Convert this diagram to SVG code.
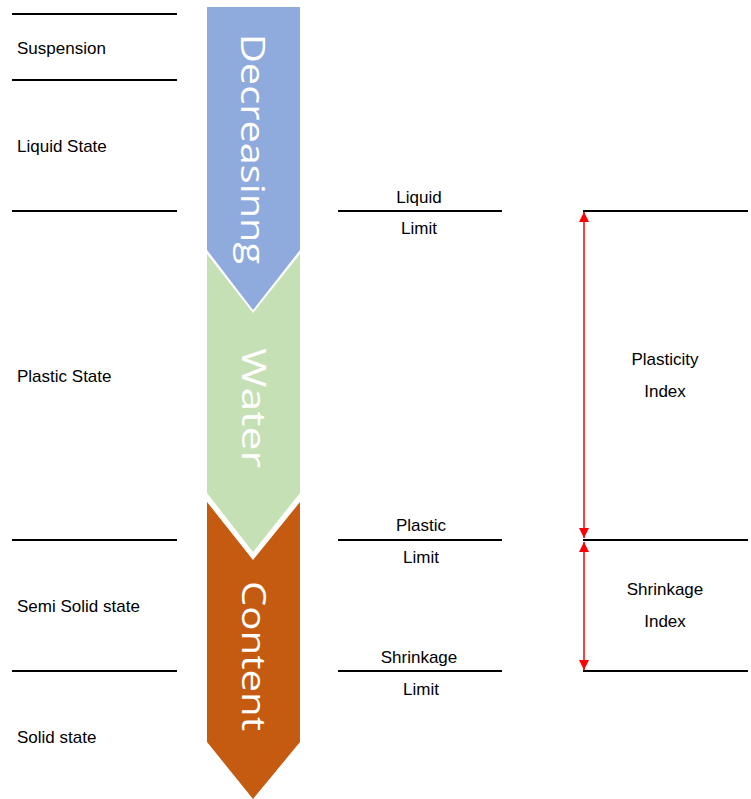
<svg xmlns="http://www.w3.org/2000/svg" width="751" height="799" viewBox="0 0 751 799">
<defs>
<style>
.lbl{font-family:"Liberation Sans",Arial,sans-serif;font-size:17px;fill:#000}
.mid{text-anchor:middle}
.big{font-family:"Open Sans","Liberation Sans",sans-serif;font-size:33px;fill:#fff;text-anchor:middle}
.ln{stroke:#000;stroke-width:2;fill:none}
.arr{stroke:#ff0000;stroke-width:1.5;fill:none;marker-start:url(#ah);marker-end:url(#ah)}
</style>
<marker id="ah" viewBox="0 0 10 10" refX="10" refY="5" markerWidth="10" markerHeight="10" markerUnits="userSpaceOnUse" orient="auto-start-reverse">
<path d="M0,0 L10,5 L0,10 Z" fill="#ff0000"/>
</marker>
</defs>
<rect width="751" height="799" fill="#fff"/>
<g id="chevron-decreasing">
<polygon points="207,7 300,7 300,250 253,310 207,250" fill="#8FAADC"/>
<text class="big" transform="translate(241,149) rotate(90)" textLength="230" lengthAdjust="spacingAndGlyphs">Decreasinng</text>
</g>
<g id="chevron-water">
<polygon points="207,254 253,313 300,254 300,493 253,552 207,493" fill="#C5E0B4"/>
<text class="big" transform="translate(242,408) rotate(90)" textLength="120" lengthAdjust="spacingAndGlyphs">Water</text>
</g>
<g id="chevron-content">
<polygon points="207,502 253,560 300,502 300,742 253,799 207,742" fill="#C55A11"/>
<text class="big" transform="translate(242,656) rotate(90)" textLength="150" lengthAdjust="spacingAndGlyphs">Content</text>
</g>
<g id="connectors">
<line class="ln" x1="12" y1="14" x2="177" y2="14"/>
<line class="ln" x1="12" y1="80" x2="177" y2="80"/>
<line class="ln" x1="12" y1="211" x2="177" y2="211"/>
<line class="ln" x1="12" y1="540" x2="177" y2="540"/>
<line class="ln" x1="12" y1="671" x2="177" y2="671"/>
<line class="ln" x1="338" y1="211" x2="502" y2="211"/>
<line class="ln" x1="338" y1="540" x2="502" y2="540"/>
<line class="ln" x1="338" y1="671" x2="502" y2="671"/>
<line class="ln" x1="583" y1="211" x2="748" y2="211"/>
<line class="ln" x1="583" y1="540" x2="748" y2="540"/>
<line class="ln" x1="583" y1="671" x2="748" y2="671"/>
<line class="arr" x1="584" y1="212" x2="584" y2="538"/>
<line class="arr" x1="584" y1="542" x2="584" y2="670"/>
</g>
<g id="state-labels">
<text class="lbl" x="17" y="54">Suspension</text>
<text class="lbl" x="17" y="152">Liquid State</text>
<text class="lbl" x="17" y="382">Plastic State</text>
<text class="lbl" x="17" y="612">Semi Solid state</text>
<text class="lbl" x="17" y="743">Solid state</text>
</g>
<g id="limit-labels">
<text class="lbl mid" x="419" y="203">Liquid</text>
<text class="lbl mid" x="419" y="234">Limit</text>
<text class="lbl mid" x="421" y="531">Plastic</text>
<text class="lbl mid" x="421" y="563">Limit</text>
<text class="lbl mid" x="419" y="663">Shrinkage</text>
<text class="lbl mid" x="421" y="695">Limit</text>
</g>
<g id="index-labels">
<text class="lbl mid" x="665" y="365">Plasticity</text>
<text class="lbl mid" x="665" y="397">Index</text>
<text class="lbl mid" x="665" y="595">Shrinkage</text>
<text class="lbl mid" x="665" y="627">Index</text>
</g>
</svg>
